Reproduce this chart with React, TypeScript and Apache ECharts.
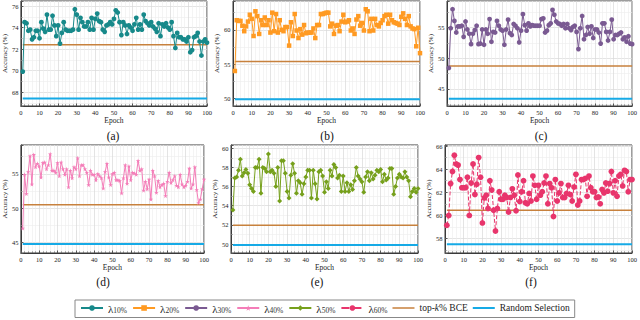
import React, { useEffect, useRef } from "react";
import * as echarts from "echarts";

const lambda10 = [69.9,74.5,74.4,73.7,73.8,72.9,73.1,73.7,73.7,73.0,
74.5,73.9,73.6,75.2,73.8,73.8,75.1,74.2,73.2,74.2,
72.5,73.5,74.5,73.8,73.7,73.7,73.7,73.8,75.7,75.2,
73.8,74.9,74.5,74.1,74.1,74.5,73.8,74.9,73.8,74.8,
75.3,74.6,74.5,73.8,73.6,74.2,74.3,74.5,74.3,74.8,
75.6,75.4,74.5,73.3,74.5,74.2,73.4,74.2,74.0,73.7,
74.3,74.9,73.8,74.3,73.8,75.2,74.6,74.4,74.2,74.5,
74.1,73.9,73.6,74.4,73.2,74.3,74.1,74.4,74.0,73.8,
74.5,73.2,72.1,73.5,73.1,73.1,72.9,72.9,72.7,73.1,
71.7,71.9,73.1,73.2,73.5,72.7,71.4,72.7,72.9,72.6];

const lambda20 = [54.0,61.4,61.3,61.3,60.6,59.8,60.5,61.2,62.2,61.6,
59.1,62.7,62.0,59.4,61.4,60.7,61.8,60.7,61.4,59.6,
62.5,59.8,62.3,59.6,61.4,60.0,59.8,60.4,60.4,57.7,
61.1,59.1,62.3,59.9,58.8,60.1,59.3,60.7,59.5,59.6,
59.6,59.6,60.2,58.8,60.7,60.7,62.3,62.3,62.4,62.5,
62.5,60.5,60.9,59.4,60.6,60.7,59.8,61.2,62.2,61.1,
61.2,61.4,59.9,60.2,59.4,61.5,62.0,60.6,61.0,59.9,
63.0,62.7,59.8,61.6,59.9,61.6,60.7,60.5,61.0,61.4,
62.0,62.2,60.9,62.2,61.4,61.1,61.0,60.9,60.7,61.9,
62.4,61.6,60.7,62.0,60.5,60.2,60.1,57.6,60.3,56.6];

const lambda30 = [48.4,54.9,58.0,56.1,54.2,55.2,55.2,55.3,53.5,56.0,
54.7,54.0,52.3,54.0,54.6,55.3,52.3,52.4,54.7,52.2,
54.7,54.0,56.4,52.7,54.3,54.2,56.1,55.3,54.7,54.5,
52.2,54.7,56.3,54.1,53.8,55.6,55.3,54.9,52.6,54.5,
57.2,55.4,54.5,55.7,55.2,55.4,55.3,55.3,55.3,55.3,
56.4,56.5,54.2,54.5,55.4,55.7,57.9,57.1,56.0,55.7,
55.6,55.3,55.6,54.9,55.6,54.9,54.6,55.1,55.3,54.3,
51.5,54.9,56.9,53.1,53.8,55.1,54.0,55.2,53.3,54.7,
54.7,54.2,52.4,55.7,55.7,54.3,52.9,54.3,56.3,53.1,
53.8,53.8,54.0,54.2,53.1,53.4,52.7,53.6,52.4,52.3];

const lambda40 = [47.1,54.9,52.1,55.3,57.6,53.5,57.8,56.0,56.5,56.1,
54.5,56.6,56.7,55.7,56.3,57.9,55.5,55.5,55.2,56.6,
54.7,56.7,55.7,54.9,55.7,53.1,55.5,54.4,56.0,55.7,
57.3,54.7,56.3,56.3,55.7,55.2,53.4,55.5,54.9,54.9,
54.1,55.0,54.7,54.4,52.9,55.3,56.5,54.5,53.4,55.0,
55.2,54.1,54.1,54.0,52.2,54.4,56.3,53.6,56.1,54.1,
55.2,55.1,54.9,56.9,55.5,55.7,52.6,53.9,52.8,54.2,
51.3,55.5,54.7,52.3,54.0,53.1,53.4,53.6,51.8,53.9,
55.2,53.7,54.1,54.7,53.3,53.1,54.9,53.5,53.1,53.3,
53.9,55.8,52.9,53.5,56.0,52.7,50.8,51.3,52.8,54.2];

const lambda50 = [53.55,56.9,57.0,57.7,58.85,57.1,57.45,57.8,57.4,56.2,
55.8,55.5,58.0,58.0,58.85,55.3,58.0,57.9,57.55,59.4,
57.55,57.7,57.4,56.0,58.0,54.5,58.7,58.7,57.4,55.5,
54.8,57.2,58.4,57.4,55.3,56.6,56.4,55.2,56.3,57.0,
57.7,57.7,54.8,57.7,56.3,54.7,57.55,57.7,57.1,55.4,
56.5,55.8,57.7,57.1,58.3,58.0,56.9,57.2,55.5,57.1,
55.5,56.4,55.5,56.2,55.7,56.6,58.0,57.1,56.8,56.5,
55.4,57.0,57.55,56.6,57.45,56.8,57.2,57.7,57.55,57.8,
56.5,57.3,56.7,56.9,57.9,57.9,55.2,56.0,56.9,57.3,
57.0,56.9,57.55,57.0,56.6,54.95,55.5,55.8,55.4,55.8];

const lambda60 = [59.15,60.0,62.75,63.8,65.2,64.45,64.35,63.1,62.4,62.4,
62.4,63.3,60.0,62.8,64.45,61.8,62.7,65.0,63.3,59.35,
61.5,61.75,60.6,63.0,62.2,60.45,58.65,60.6,62.05,61.4,
61.4,61.75,61.55,60.3,61.55,62.3,61.75,60.4,63.5,61.2,
62.05,63.0,61.1,61.0,61.9,61.25,63.4,62.6,61.4,62.6,
61.75,62.05,62.8,63.4,61.0,62.75,62.4,59.9,63.1,61.25,
61.95,62.75,61.55,61.55,61.9,62.6,61.8,61.25,62.45,63.55,
60.9,61.25,63.1,63.1,63.2,61.65,63.4,62.4,62.05,62.05,
61.55,61.6,61.0,62.25,61.95,62.8,62.1,62.75,63.8,61.95,
63.0,61.65,63.4,63.55,62.55,63.9,63.8,62.05,63.1,63.1];

// top-k% BCE and Random Selection reference accuracies per panel (a)-(f)
const bceValues = [72.4, 55.4, 48.75, 50.5, 51.95, 60.45];
const randomValues = [67.4, 49.9, 43.4, 44.8, 49.9, 57.5];

const seriesNames = ["λ10%", "λ20%", "λ30%", "λ40%", "λ50%", "λ60%"];
const panelLabels = ["(a)", "(b)", "(c)", "(d)", "(e)", "(f)"];
const BCE = "top-k% BCE";
const RND = "Random Selection";
const FIRST_EPOCH = 1;
const LAST_EPOCH = 100;

const SERIF = "'Liberation Serif', 'DejaVu Serif', serif";
const STAR = "path://M0,-1L0.22,-0.31L0.95,-0.31L0.36,0.12L0.59,0.81L0,0.38L-0.59,0.81L-0.36,0.12L-0.95,-0.31L-0.22,-0.31Z";
const LINE_ICON_THIN = "path://M0,0L44,0L44,3L0,3Z";
const LINE_ICON_THICK = "path://M0,0L44,0L44,4L0,4Z";

const panels = [
  { data: lambda10, color: "#17898A", symbol: "circle", size: 4.8, dash: "solid", min: 66.7, max: 76.47, split: 5,
    grid: { left: 19, top: 1, width: 188, height: 105 }, lx: 113, ly: 136 },
  { data: lambda20, color: "#FF9A22", symbol: "rect", size: 4.5, dash: "solid", min: 48.9, max: 64.2, split: 3,
    grid: { left: 233, top: 1, width: 187, height: 105 }, lx: 327, ly: 136 },
  { data: lambda30, color: "#7A5A92", symbol: "circle", size: 4.8, dash: "solid", min: 42.2, max: 59.35, split: 3,
    grid: { left: 447, top: 1, width: 186, height: 105 }, lx: 541, ly: 136 },
  { data: lambda40, color: "#F47DB8", symbol: STAR, size: 4.5, dash: "solid", min: 43.5, max: 59.2, split: 3,
    grid: { left: 17, top: 145, width: 187, height: 108 }, lx: 103, ly: 282 },
  { data: lambda50, color: "#76A01C", symbol: "diamond", size: 5, dash: "solid", min: 49.06, max: 60.35, split: 5,
    grid: { left: 231, top: 145, width: 187, height: 108 }, lx: 317, ly: 282 },
  { data: lambda60, color: "#E8356C", symbol: "circle", size: 5.8, dash: "dashed", min: 56.75, max: 66.09, split: 5,
    grid: { left: 445, top: 145, width: 187, height: 108 }, lx: 531, ly: 282 },
];

const BCE_COLOR = "#C7813D";
const RND_COLOR = "#16AAE6";

function legendLabel(name: string): string {
  if (name.startsWith("λ")) return `{l|λ}{s|${name.slice(1)}}`;
  if (name === BCE) return "{t|top-}{i|k}{t|% BCE}";
  return `{t|${name}}`;
}

function buildOption() {
  const grids: any[] = [];
  const xAxes: any[] = [];
  const yAxes: any[] = [];
  const series: any[] = [];
  const texts: any[] = [];
  panels.forEach((p, i) => {
    grids.push({ ...p.grid, show: true, borderColor: "#3a3a3a", borderWidth: 1, backgroundColor: "#fff", containLabel: false });
    xAxes.push({
      type: "value", gridIndex: i, min: 0, max: 100, interval: 10,
      name: "Epoch", nameLocation: "middle", nameGap: 8,
      nameTextStyle: { fontFamily: SERIF, fontSize: 7.5, color: "#222" },
      axisLine: { show: true, lineStyle: { color: "#3a3a3a", width: 1 } },
      axisTick: { show: true, inside: true, length: 2.5, lineStyle: { color: "#555" } },
      minorTick: { show: true, splitNumber: 5, length: 1.5, lineStyle: { color: "#777" } },
      axisLabel: { fontFamily: SERIF, fontSize: 6.5, color: "#222", margin: 2.5 },
      splitLine: { show: true, lineStyle: { color: "#d8d8d8", width: 0.7 } },
      minorSplitLine: { show: true, lineStyle: { color: "#ececec", width: 0.6 } },
    });
    yAxes.push({
      type: "value", gridIndex: i, min: p.min, max: p.max, splitNumber: p.split,
      name: "Accuracy (%)", nameLocation: "middle", nameGap: 10.5, nameRotate: 90,
      nameTextStyle: { fontFamily: SERIF, fontSize: 7, color: "#222" },
      axisLine: { show: true, lineStyle: { color: "#3a3a3a", width: 1 } },
      axisTick: { show: true, inside: true, length: 2.5, lineStyle: { color: "#555" } },
      minorTick: { show: true, splitNumber: 2, length: 1.5, lineStyle: { color: "#777" } },
      axisLabel: {
        fontFamily: SERIF, fontSize: 6.5, color: "#222", margin: 2.5,
        showMinLabel: false, showMaxLabel: false,
        formatter: (v: number) => (Math.abs(v - Math.round(v)) < 1e-6 ? String(Math.round(v)) : ""),
      },
      splitLine: { show: true, lineStyle: { color: "#d8d8d8", width: 0.7 } },
      minorSplitLine: { show: true, lineStyle: { color: "#ececec", width: 0.6 } },
    });
    series.push({
      name: seriesNames[i], type: "line", xAxisIndex: i, yAxisIndex: i,
      data: p.data.map((v, k) => [k + 1, v]),
      symbol: p.symbol, symbolSize: p.size, showSymbol: true,
      lineStyle: { color: p.color, width: 1, type: p.dash },
      itemStyle: { color: p.color },
      z: 3,
    });
    series.push({
      name: BCE, type: "line", xAxisIndex: i, yAxisIndex: i, symbol: "none",
      data: [[FIRST_EPOCH, bceValues[i]], [LAST_EPOCH, bceValues[i]]],
      lineStyle: { color: BCE_COLOR, width: 1.5 }, itemStyle: { color: BCE_COLOR }, z: 2,
    });
    series.push({
      name: RND, type: "line", xAxisIndex: i, yAxisIndex: i, symbol: "none",
      data: [[FIRST_EPOCH, randomValues[i]], [LAST_EPOCH, randomValues[i]]],
      lineStyle: { color: RND_COLOR, width: 2 }, itemStyle: { color: RND_COLOR }, z: 2,
    });
    texts.push({
      type: "text", x: p.lx, y: p.ly,
      style: { text: panelLabels[i], fontFamily: SERIF, fontSize: 11.5, fill: "#111", textAlign: "center", textVerticalAlign: "middle" },
    });
  });
  return {
    animation: false,
    backgroundColor: "#fff",
    grid: grids,
    xAxis: xAxes,
    yAxis: yAxes,
    series,
    graphic: texts,
    legend: {
      data: [
        ...seriesNames,
        { name: BCE, icon: LINE_ICON_THIN },
        { name: RND, icon: LINE_ICON_THICK },
      ],
      left: 75, top: 300,
      orient: "horizontal",
      itemWidth: 22, itemHeight: 7, itemGap: 5,
      symbolKeepAspect: true,
      padding: [3, 5, 3, 5],
      borderColor: "#888", borderWidth: 1, backgroundColor: "#fff",
      formatter: legendLabel,
      textStyle: {
        fontFamily: SERIF, fontSize: 9.5, color: "#222",
        rich: {
          l: { fontFamily: SERIF, fontSize: 11, color: "#222", lineHeight: 13, verticalAlign: "bottom" },
          s: { fontFamily: SERIF, fontSize: 7.5, color: "#333", lineHeight: 10, verticalAlign: "bottom" },
          t: { fontFamily: SERIF, fontSize: 9.5, color: "#222", lineHeight: 13 },
          i: { fontFamily: SERIF, fontSize: 9.5, color: "#222", fontStyle: "italic", lineHeight: 13 },
        },
      },
    },
  };
}

export default function App() {
  const ref = useRef<HTMLDivElement>(null);
  useEffect(() => {
    if (!ref.current) return;
    const chart = echarts.init(ref.current, undefined, { renderer: "svg" });
    chart.setOption(buildOption() as any);
    return () => chart.dispose();
  }, []);
  return <div ref={ref} style={{ position: "fixed", left: 0, top: 0, width: 640, height: 320, background: "#fff" }} />;
}
